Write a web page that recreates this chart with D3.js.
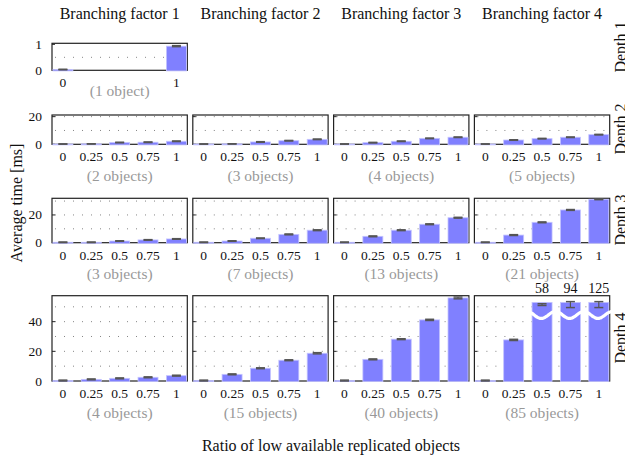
<!DOCTYPE html>
<html>
<head>
<meta charset="utf-8">
<script src="https://cdn.jsdelivr.net/npm/d3@7"></script>
<style>
  html, body { margin: 0; padding: 0; background: #fff; }
  svg { display: block; }
  text { font-family: "Liberation Serif", "DejaVu Serif", serif; }
</style>
</head>
<body>
<svg id="chart" width="625" height="460"></svg>
<script>
// ---------------- data ----------------
const branchingFactors = ["Branching factor 1", "Branching factor 2", "Branching factor 3", "Branching factor 4"];
const depthLabels = ["Depth 1", "Depth 2", "Depth 3", "Depth 4"];
const ratiosDepth1 = [0, 1];
const ratios = [0, 0.25, 0.5, 0.75, 1];
const ratioLabels = ["0", "0.25", "0.5", "0.75", "1"];

// number of objects per (depth, branching factor)
const objectsDepth1 = [1];
const objectsDepth2 = [2, 3, 4, 5];
const objectsDepth3 = [3, 7, 13, 21];
const objectsDepth4 = [4, 15, 40, 85];

// average time [ms] per (depth, branching factor) over the ratios
const timeDepth1 = [[0.03, 0.93]];
const timeDepth2 = [
  [0.2, 0.3, 1.3, 1.5, 2.2],
  [0.2, 0.3, 1.7, 2.6, 3.6],
  [0.2, 1.2, 2.2, 4.3, 5.1],
  [0.2, 3.1, 4.1, 5.1, 7.0]
];
const timeDepth3 = [
  [0.3, 0.3, 1.2, 2.0, 2.7],
  [0.3, 1.2, 3.2, 6.0, 9.0],
  [0.3, 4.6, 9.0, 13.3, 18.0],
  [0.3, 5.5, 14.7, 23.6, 31.3]
];
const timeDepth4 = [
  [0.3, 1.1, 1.8, 2.5, 3.6],
  [0.3, 4.5, 8.6, 14.0, 18.7],
  [0.3, 14.6, 28.2, 41.2, 56.0],
  [0.3, 27.7, 58, 94, 125]
];
// error (half-width) of the time values
const errDepth1 = [[0.01, 0.02]];
const errDepth2 = [
  [0.1, 0.1, 0.2, 0.2, 0.2],
  [0.1, 0.1, 0.2, 0.2, 0.2],
  [0.1, 0.2, 0.2, 0.2, 0.2],
  [0.1, 0.2, 0.2, 0.2, 0.2]
];
const errDepth3 = [
  [0.2, 0.2, 0.2, 0.2, 0.2],
  [0.2, 0.2, 0.2, 0.3, 0.3],
  [0.2, 0.3, 0.3, 0.3, 0.3],
  [0.2, 0.3, 0.3, 0.3, 0.3]
];
const errDepth4 = [
  [0.3, 0.3, 0.3, 0.3, 0.3],
  [0.3, 0.3, 0.3, 0.3, 0.4],
  [0.3, 0.3, 0.3, 0.4, 0.6],
  [0.3, 0.4, 0.6, 2.0, 2.0]
];

const yTicks = [[0, 1], [0, 20], [0, 20], [0, 20, 40]];
const yGrid = [[0.5], [10, 20], [10, 20, 30], [10, 20, 30, 40, 50]];
const yMax = [1.04, 21.2, 32, 57.5];

// ---------------- layout ----------------
const svg = d3.select("#chart");
const colLeft = [52, 192.8, 333.6, 474.4];
const panelW = 135.3;
const rowTop = [43.3, 115, 198.3, 295.7];
const rowBottom = [70.3, 144.3, 242.7, 381];
const barW = 20;
const clipAt = 53;     // bars exceeding the axis are cut here (row 4)
const breakAt = 44.5;  // where the wavy break is drawn
const barColor = "#8080ff";

const rows = [
  { objects: objectsDepth1, times: timeDepth1, errs: errDepth1, xs: ratiosDepth1, xl: ["0", "1"] },
  { objects: objectsDepth2, times: timeDepth2, errs: errDepth2, xs: ratios, xl: ratioLabels },
  { objects: objectsDepth3, times: timeDepth3, errs: errDepth3, xs: ratios, xl: ratioLabels },
  { objects: objectsDepth4, times: timeDepth4, errs: errDepth4, xs: ratios, xl: ratioLabels }
];

// column titles
svg.selectAll("text.coltitle").data(branchingFactors).enter().append("text")
  .attr("x", (d, i) => colLeft[i] + panelW / 2)
  .attr("y", 13)
  .attr("text-anchor", "middle")
  .attr("dominant-baseline", "central")
  .attr("font-size", 16)
  .attr("fill", "#111")
  .text(d => d);

// depth labels on the right
const depthCenters = [47, 129, 220, 338];
depthLabels.forEach((d, r) => {
  svg.append("text")
    .attr("transform", `translate(626,${depthCenters[r]}) rotate(-90)`)
    .attr("text-anchor", "middle")
    .attr("font-size", 16)
    .attr("fill", "#111")
    .text(d);
});

rows.forEach((row, r) => {
  const y = d3.scaleLinear().domain([0, yMax[r]]).range([rowBottom[r], rowTop[r]]);
  const isCut = v => v > yMax[r];
  const shown = v => isCut(v) ? clipAt : v;
  row.times.forEach((vals, c) => {
    const x = d3.scaleLinear().domain([-0.096, 1.096]).range([colLeft[c], colLeft[c] + panelW]);
    const g = svg.append("g");

    // dotted grid
    g.selectAll("line.grid").data(yGrid[r]).enter().append("line")
      .attr("x1", colLeft[c] + 3).attr("x2", colLeft[c] + panelW - 3)
      .attr("y1", d => y(d)).attr("y2", d => y(d))
      .attr("stroke", "#777").attr("stroke-width", 0.9)
      .attr("stroke-dasharray", "1,8");

    // frame
    g.append("rect")
      .attr("x", colLeft[c]).attr("y", rowTop[r])
      .attr("width", panelW).attr("height", rowBottom[r] - rowTop[r])
      .attr("fill", "none").attr("stroke", "#222").attr("stroke-width", 1.2);

    // inner y tick marks
    g.selectAll("line.yt").data(yTicks[r]).enter().append("line")
      .attr("x1", colLeft[c]).attr("x2", colLeft[c] + 3)
      .attr("y1", d => y(d)).attr("y2", d => y(d))
      .attr("stroke", "#222").attr("stroke-width", 1);

    const data = vals.map((v, i) => ({ x: row.xs[i], v: v, e: row.errs[c][i], lbl: row.xl[i] }));

    // bars
    g.selectAll("rect.bar").data(data).enter().append("rect")
      .attr("x", d => x(d.x) - barW / 2)
      .attr("width", barW)
      .attr("y", d => y(shown(d.v)))
      .attr("height", d => y(0) - y(shown(d.v)) + 0.6)
      .attr("fill", barColor)
      .attr("stroke", "#c4c4ff").attr("stroke-width", 0.8);

    // error bars
    data.forEach(d => {
      const top = isCut(d.v) ? clipAt - 1.5 : d.v;
      const e = Math.max(d.e, 0.0001);
      const y1 = y(top + e), y2 = y(Math.max(top - e, 0));
      const cx = x(d.x);
      g.append("line").attr("x1", cx).attr("x2", cx).attr("y1", y1).attr("y2", y2)
        .attr("stroke", "#555").attr("stroke-width", 1.2);
      [y1, y2].forEach(yy => g.append("line")
        .attr("x1", cx - 4.5).attr("x2", cx + 4.5).attr("y1", yy).attr("y2", yy)
        .attr("stroke", "#555").attr("stroke-width", 1.5));
    });

    // clipped value labels + wavy break
    const cut = data.filter(d => isCut(d.v));
    if (cut.length) {
      g.selectAll("text.cut").data(cut).enter().append("text")
        .attr("x", d => x(d.x)).attr("y", rowTop[r] - 2.5)
        .attr("text-anchor", "middle").attr("font-size", 14).attr("fill", "#111")
        .text(d => d3.format("d")(d.v));
      const xStart = x(cut[0].x) - barW / 2 - 2;
      const xEnd = colLeft[c] + panelW + 5;
      const period = x(0.25) - x(0);
      const pts = d3.range(xStart, xEnd + 0.5, 1).map(px =>
        [px, y(breakAt) - 3.5 * Math.cos(2 * Math.PI * (px - xStart + 3) / period)]);
      g.append("path").attr("d", d3.line().curve(d3.curveBasis)(pts))
        .attr("fill", "none").attr("stroke", "#fff").attr("stroke-width", 3.2);
    }

    // x tick labels
    g.selectAll("text.xt").data(data).enter().append("text")
      .attr("x", d => x(d.x)).attr("y", rowBottom[r] + 12.5)
      .attr("text-anchor", "middle").attr("dominant-baseline", "central")
      .attr("font-size", 13.5).attr("fill", "#111")
      .text(d => d.lbl);

    // objects label
    const n = row.objects[c];
    g.append("text")
      .attr("x", colLeft[c] + panelW / 2)
      .attr("y", rowBottom[r] + (r === 0 ? 20.5 : 31))
      .attr("text-anchor", "middle").attr("dominant-baseline", "central")
      .attr("font-size", 15.5).attr("fill", "#999")
      .text(`(${n} object${n === 1 ? "" : "s"})`);

    // y tick labels (first column only)
    if (c === 0) {
      g.selectAll("text.yt").data(yTicks[r]).enter().append("text")
        .attr("x", colLeft[0] - 10).attr("y", d => y(d))
        .attr("text-anchor", "end").attr("dominant-baseline", "central")
        .attr("font-size", 13.5).attr("fill", "#111")
        .text(d => d);
    }
  });
});

// axis titles
svg.append("text")
  .attr("transform", "translate(22,203) rotate(-90)")
  .attr("text-anchor", "middle").attr("font-size", 16).attr("fill", "#111")
  .text("Average time [ms]");
svg.append("text")
  .attr("x", 331).attr("y", 445)
  .attr("text-anchor", "middle").attr("dominant-baseline", "central")
  .attr("font-size", 16).attr("fill", "#111")
  .text("Ratio of low available replicated objects");
</script>
</body>
</html>
